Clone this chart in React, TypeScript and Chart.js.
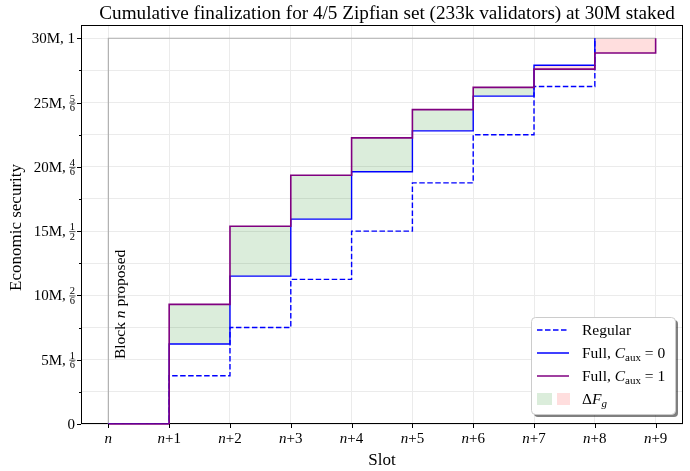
import React, { useEffect, useRef } from 'react';
import { Chart, registerables } from 'chart.js';

Chart.register(...registerables);

// ---------------- data ----------------
const slots = [0, 1, 2, 3, 4, 5, 6, 7, 8, 9];
const xTickSuffix = ['', '+1', '+2', '+3', '+4', '+5', '+6', '+7', '+8', '+9'];
const yTickValues = [0, 5, 10, 15, 20, 25, 30];
const yTickMain = ['0', '5M,', '10M,', '15M,', '20M,', '25M,', '30M, 1'];
const yTickFracNum = ['', '1', '2', '1', '4', '5', ''];
const yTickFracDen = ['', '6', '6', '2', '6', '6', ''];
const totalStake = 30;
const regular = [0, 3.75, 7.5, 11.25, 15, 18.75, 22.5, 26.25, 30];
const fullC0 = [0, 6.22, 11.5, 15.93, 19.62, 22.8, 25.5, 27.9, 30];
const fullC1 = [0, 9.3, 15.38, 19.35, 22.25, 24.45, 26.18, 27.6, 28.85, 30];

const FONT = '"Liberation Serif", "Times New Roman", serif';
const GREEN = 'rgba(0,128,0,0.14)';
const PINK = 'rgba(255,0,0,0.13)';
const BLUE = '#0000ff';
const PURPLE = '#800080';

type Run = { t: string; italic?: boolean; size: number; dy?: number };

function runWidth(ctx: CanvasRenderingContext2D, runs: Run[]) {
  return runs.map((r) => {
    ctx.font = `${r.italic ? 'italic ' : ''}${r.size}px ${FONT}`;
    return ctx.measureText(r.t).width;
  });
}

function drawRuns(ctx: CanvasRenderingContext2D, runs: Run[], x: number, y: number, align: 'left' | 'center' | 'right') {
  const ws = runWidth(ctx, runs);
  const total = ws.reduce((s, w) => s + w, 0);
  let cx = align === 'center' ? x - total / 2 : align === 'right' ? x - total : x;
  ctx.textAlign = 'left';
  ctx.textBaseline = 'alphabetic';
  runs.forEach((r, i) => {
    ctx.font = `${r.italic ? 'italic ' : ''}${r.size}px ${FONT}`;
    ctx.fillText(r.t, cx, y + (r.dy || 0));
    cx += ws[i];
  });
}

const overlay = {
  id: 'overlay',
  beforeDatasetsDraw(chart: any) {
    const ctx: CanvasRenderingContext2D = chart.ctx;
    const a = chart.chartArea;
    ctx.save();
    ctx.strokeStyle = '#000';
    ctx.lineWidth = 1;
    ctx.strokeRect(a.left + 0.5, a.top + 0.5, a.right - a.left - 1, a.bottom - a.top - 1);
    ctx.restore();
  },
  afterDraw(chart: any) {
    const ctx: CanvasRenderingContext2D = chart.ctx;
    const a = chart.chartArea;
    const xs = chart.scales.x;
    const ys = chart.scales.y;
    ctx.save();
    ctx.fillStyle = '#000';
    ctx.strokeStyle = '#000';
    ctx.lineWidth = 1;

    // y ticks
    for (let v = 0; v <= totalStake + 0.001; v += 2.5) {
      const major = Math.abs(v % 5) < 0.001;
      const y = Math.round(ys.getPixelForValue(v)) + 0.5;
      ctx.beginPath();
      ctx.moveTo(a.left - (major ? 4 : 2), y);
      ctx.lineTo(a.left, y);
      ctx.stroke();
    }
    // y labels
    yTickValues.forEach((v, i) => {
      const y = ys.getPixelForValue(v);
      const right = a.left - 6;
      if (yTickFracNum[i]) {
        ctx.font = `10.5px ${FONT}`;
        const fw = Math.max(ctx.measureText(yTickFracNum[i]).width, ctx.measureText(yTickFracDen[i]).width);
        const fc = right - fw / 2;
        ctx.textAlign = 'center';
        ctx.textBaseline = 'alphabetic';
        ctx.fillText(yTickFracNum[i], fc, y - 1);
        ctx.fillText(yTickFracDen[i], fc, y + 8.5);
        ctx.beginPath();
        ctx.lineWidth = 0.7;
        ctx.moveTo(fc - fw / 2 - 0.5, y + 0.5);
        ctx.lineTo(fc + fw / 2 + 0.5, y + 0.5);
        ctx.stroke();
        ctx.lineWidth = 1;
        drawRuns(ctx, [{ t: yTickMain[i], size: 15 }], right - fw - 4, y + 5, 'right');
      } else {
        drawRuns(ctx, [{ t: yTickMain[i], size: 15 }], right, y + 5, 'right');
      }
    });

    // x ticks + labels
    slots.forEach((s, i) => {
      const x = Math.round(xs.getPixelForValue(s)) + 0.5;
      ctx.beginPath();
      ctx.moveTo(x, a.bottom);
      ctx.lineTo(x, a.bottom + 4);
      ctx.stroke();
      drawRuns(ctx, [{ t: 'n', italic: true, size: 15 }, { t: xTickSuffix[i], size: 15 }], xs.getPixelForValue(s), 443, 'center');
    });

    // axis titles
    drawRuns(ctx, [{ t: 'Slot', size: 17 }], (a.left + a.right) / 2, 465, 'center');
    ctx.save();
    ctx.translate(21, (a.top + a.bottom) / 2 + 3);
    ctx.rotate(-Math.PI / 2);
    drawRuns(ctx, [{ t: 'Economic security', size: 17 }], 0, 0, 'center');
    ctx.restore();

    // title
    drawRuns(ctx, [{ t: 'Cumulative finalization for 4/5 Zipfian set (233k validators) at 30M staked', size: 19.2 }], (a.left + a.right) / 2 + 5, 19, 'center');

    // annotation
    ctx.save();
    ctx.translate(xs.getPixelForValue(0.2) + 4, ys.getPixelForValue(9.3));
    ctx.rotate(-Math.PI / 2);
    drawRuns(ctx, [{ t: 'Block ', size: 15.5 }, { t: 'n', italic: true, size: 15.5 }, { t: ' proposed', size: 15.5 }], 0, 0, 'center');
    ctx.restore();

    // legend
    const lx = a.right - 152, ly = a.bottom - 107, lw = 144, lh = 97;
    ctx.save();
    ctx.fillStyle = 'rgba(0,0,0,0.5)';
    ctx.beginPath();
    ctx.roundRect(lx + 3, ly + 3, lw, lh, 4);
    ctx.fill();
    ctx.fillStyle = '#fff';
    ctx.strokeStyle = '#cccccc';
    ctx.beginPath();
    ctx.roundRect(lx + 0.5, ly + 0.5, lw, lh, 4);
    ctx.fill();
    ctx.stroke();
    ctx.restore();
    const hx0 = lx + 6, hx1 = lx + 38, tx = lx + 51;
    const rows = [ly + 13, ly + 36, ly + 59, ly + 82];
    ctx.lineWidth = 1.5;
    ctx.strokeStyle = BLUE;
    ctx.setLineDash([5.5, 2.5]);
    ctx.beginPath(); ctx.moveTo(hx0, rows[0]); ctx.lineTo(hx1, rows[0]); ctx.stroke();
    ctx.setLineDash([]);
    ctx.beginPath(); ctx.moveTo(hx0, rows[1]); ctx.lineTo(hx1, rows[1]); ctx.stroke();
    ctx.strokeStyle = PURPLE;
    ctx.beginPath(); ctx.moveTo(hx0, rows[2]); ctx.lineTo(hx1, rows[2]); ctx.stroke();
    ctx.fillStyle = GREEN;
    ctx.fillRect(hx0, rows[3] - 6, 15, 12);
    ctx.fillStyle = PINK;
    ctx.fillRect(hx0 + 20, rows[3] - 6, 13, 12);
    ctx.fillStyle = '#000';
    drawRuns(ctx, [{ t: 'Regular', size: 15.5 }], tx, rows[0] + 5, 'left');
    drawRuns(ctx, [{ t: 'Full, ', size: 15.5 }, { t: 'C', italic: true, size: 15.5 }, { t: 'aux', size: 11, dy: 3 }, { t: ' = 0', size: 15.5 }], tx, rows[1] + 5, 'left');
    drawRuns(ctx, [{ t: 'Full, ', size: 15.5 }, { t: 'C', italic: true, size: 15.5 }, { t: 'aux', size: 11, dy: 3 }, { t: ' = 1', size: 15.5 }], tx, rows[2] + 5, 'left');
    drawRuns(ctx, [{ t: '\u0394', size: 15.5 }, { t: 'F', italic: true, size: 15.5 }, { t: 'g', italic: true, size: 11, dy: 3 }], tx, rows[3] + 5, 'left');

    ctx.restore();
  },
};

export default function App() {
  const ref = useRef<HTMLCanvasElement | null>(null);
  useEffect(() => {
    if (!ref.current) return;
    const pts = (arr: number[]) => arr.map((y, i) => ({ x: slots[i], y }));
    const c0Extended = [...fullC0, totalStake];
    const chart = new Chart(ref.current, {
      type: 'line',
      data: {
        datasets: [
          {
            label: 'total',
            data: [{ x: slots[0], y: 0 }, { x: slots[0], y: totalStake }, { x: slots[9], y: totalStake }],
            borderColor: '#b0b0b0',
            borderWidth: 1.2,
            pointRadius: 0,
            fill: false,
            order: 6,
          } as any,
          {
            label: 'c0target',
            data: pts(c0Extended),
            borderColor: 'rgba(0,0,0,0)',
            borderWidth: 0,
            pointRadius: 0,
            stepped: 'before',
            fill: false,
            order: 5,
          },
          {
            label: 'Full, C_aux = 1',
            data: pts(fullC1),
            borderColor: PURPLE,
            borderWidth: 1.6,
            pointRadius: 0,
            stepped: 'before',
            fill: { target: 1, above: GREEN, below: PINK },
            clip: false,
            order: 1,
          } as any,
          {
            label: 'Full, C_aux = 0',
            data: pts(fullC0),
            borderColor: BLUE,
            borderWidth: 1.4,
            pointRadius: 0,
            stepped: 'before',
            fill: false,
            order: 2,
          },
          {
            label: 'Regular',
            data: pts(regular),
            borderColor: BLUE,
            borderWidth: 1.4,
            borderDash: [5.5, 2.5],
            pointRadius: 0,
            stepped: 'before',
            fill: false,
            order: 3,
          },
        ],
      },
      options: {
        responsive: false,
        animation: false,
        devicePixelRatio: 1,
        layout: { padding: { left: 81, right: 7, top: 25, bottom: 47 } },
        plugins: {
          legend: { display: false },
          tooltip: { enabled: false },
          title: { display: false },
          filler: { drawTime: 'beforeDatasetsDraw' },
        } as any,
        scales: {
          x: {
            type: 'linear',
            min: -0.45,
            max: 9.45,
            ticks: { display: false, stepSize: 1, includeBounds: false },
            grid: { color: '#ebebeb', lineWidth: 1, drawTicks: false },
            border: { display: false },
          },
          y: {
            type: 'linear',
            min: 0,
            max: 31.03,
            ticks: { display: false, stepSize: 2.5, includeBounds: false },
            grid: { color: '#ebebeb', lineWidth: 1, drawTicks: false },
            border: { display: false },
          },
        },
      },
      plugins: [overlay],
    });
    return () => chart.destroy();
  }, []);
  return (
    <div style={{ position: 'fixed', left: 0, top: 0, width: 690, height: 471, background: '#fff' }}>
      <canvas ref={ref} width={690} height={471} style={{ display: 'block', width: 690, height: 471 }} />
    </div>
  );
}
